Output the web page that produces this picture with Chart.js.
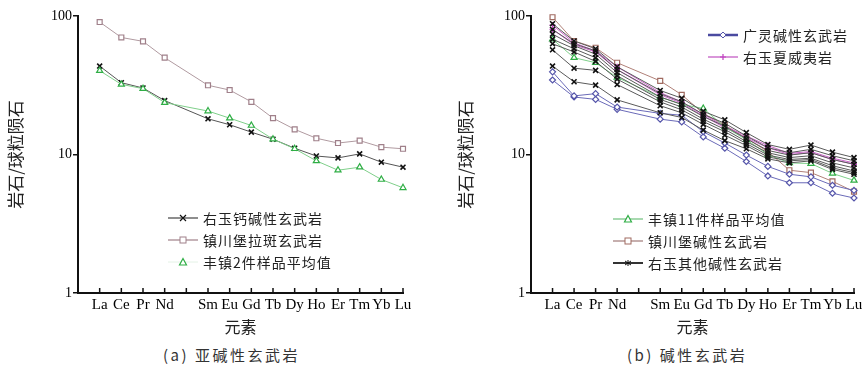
<!DOCTYPE html>
<html>
<head>
<meta charset="utf-8">
<script src="https://cdn.jsdelivr.net/npm/chart.js@4.4.1/dist/chart.umd.min.js"></script>
<style>
  body { margin: 0; background: #fff; width: 867px; height: 371px; position: relative; overflow: hidden; font-family: 'Noto Sans CJK SC', sans-serif; }
  .panel { position: absolute; top: 0; height: 340px; }
  .legend { position: absolute; font-size: 14px; letter-spacing: 1px; color: #222; }
  .legend div { height: 22px; display: flex; align-items: center; white-space: nowrap; }
  .legend svg { margin-right: 5px; flex: none; }
  .caption { position: absolute; top: 344px; font-size: 15px; letter-spacing: 2.5px; color: #333; white-space: nowrap; }
</style>
</head>
<body>
<div class="panel" style="left:0;width:430px"><canvas id="chartA" width="430" height="340"></canvas></div>
<div class="panel" style="left:430px;width:437px"><canvas id="chartB" width="437" height="340"></canvas></div>

<div class="legend" id="legA" style="left:168px;top:207px"></div>
<div class="legend" id="legB1" style="left:708px;top:24px"></div>
<div class="legend" id="legB2" style="left:613px;top:208px"></div>

<div class="caption" style="left:163px">(a) 亚碱性玄武岩</div>
<div class="caption" style="left:627px">(b) 碱性玄武岩</div>

<script>
// x positions: blank origin, La..Lu with an empty slot for Pm
const xLabels = ['', 'La', 'Ce', 'Pr', 'Nd', '', 'Sm', 'Eu', 'Gd', 'Tb', 'Dy', 'Ho', 'Er', 'Tm', 'Yb', 'Lu'];
const yTicks = [1, 10, 100];

// (a) 亚碱性玄武岩 — values for La Ce Pr Nd Sm Eu Gd Tb Dy Ho Er Tm Yb Lu
const youyuCalc = [43.5, 33, 30.2, 24.5, 18.1, 16.4, 14.5, 12.9, 11.1, 9.75, 9.45, 10.1, 8.8, 8.1];
const zcbTholeiite = [90.5, 70, 65.6, 50, 31.6, 29.2, 24, 18.3, 15.2, 13.1, 12.1, 12.6, 11.3, 11.0];
const fengzhen2 = [40.3, 32.1, 29.9, 23.7, 20.6, 18.3, 16.2, 12.9, 11.0, 9.0, 7.7, 8.1, 6.6, 5.75];

// (b) 碱性玄武岩
const guangling1 = [39.5, 26.5, 27.5, 22, 19.8, 19.2, 14.6, 12.1, 9.9, 8.2, 7.2, 6.9, 6.0, 5.5];
const guangling2 = [34.5, 26, 25, 21.2, 18, 17.2, 13.4, 11.1, 8.9, 7.0, 6.25, 6.25, 5.25, 4.85];
const youyuHawaiite1 = [86, 64, 56, 43, 28, 24, 19.5, 16, 13.6, 11.6, 10.2, 10.5, 9.4, 8.7];
const youyuHawaiite2 = [80, 62, 55, 41, 27, 23.5, 19, 15.6, 13.2, 11.2, 10.0, 10.3, 9.2, 8.5];
const fengzhen11 = [68, 50, 46, 36, 26, 23, 21.5, 15.8, 12.8, 10.0, 8.7, 8.6, 7.3, 6.5];
const zcbAlkali = [98, 66, 59, 46, 34, 27, 19.8, 16.3, 13.1, 10.5, 7.7, 7.4, 6.4, 5.4];
const youyuOther1 = [88, 66, 58, 43, 29, 25.5, 20.5, 17.8, 14.4, 11.8, 10.9, 11.7, 10.4, 9.5];
const youyuOther2 = [80, 63, 56, 41, 27.5, 24, 19.5, 16.8, 13.6, 11.2, 10.3, 10.9, 9.8, 9.0];
const youyuOther3 = [74, 61, 53, 39, 26, 23, 18.8, 16.0, 13.0, 10.7, 9.9, 10.3, 9.2, 8.5];
const youyuOther4 = [68, 58, 50, 37, 25, 22, 18.0, 15.2, 12.4, 10.3, 9.5, 9.8, 8.7, 8.0];
const youyuOther5 = [63, 55, 47, 35, 24, 21, 17.3, 14.6, 12.0, 9.9, 9.2, 9.4, 8.3, 7.6];
const youyuOther6 = [57, 42, 40.5, 32, 22.5, 20, 16.5, 13.8, 11.6, 9.6, 9.0, 9.2, 8.0, 7.4];
const youyuOther7 = [43.5, 33.5, 31.7, 24.8, 20, 18.5, 15, 12.6, 11.0, 9.3, 8.7, 9.0, 7.8, 7.2];

Chart.defaults.font.family = "'Liberation Serif', 'Noto Sans CJK SC', serif";
Chart.defaults.color = '#111';

// put the 14 REE values into the 16 x slots (origin and Pm left empty)
function slot(vals) {
    return [null, ...vals.slice(0, 4), null, ...vals.slice(4)];
}

function series(vals, color, lineColor, style, radius, width, markWidth) {
    return {
        data: slot(vals),
        borderColor: lineColor,
        borderWidth: width,
        pointStyle: style,
        pointRadius: radius,
        pointBorderColor: color,
        pointBackgroundColor: '#fff',
        pointBorderWidth: markWidth || 1.2,
        spanGaps: true,
        tension: 0,
        clip: false
    };
}

const innerTicks = {
    id: 'innerTicks',
    afterDraw(chart) {
        const x = chart.scales.x;
        const ctx = chart.ctx;
        const b = chart.chartArea.bottom;
        ctx.save();
        ctx.strokeStyle = '#111';
        ctx.lineWidth = 1.5;
        for (let i = 1; i < xLabels.length; i++) {
            const px = x.getPixelForValue(i);
            ctx.beginPath();
            ctx.moveTo(px, b);
            ctx.lineTo(px, b - 5);
            ctx.stroke();
        }
        ctx.restore();
    }
};

function makeChart(id, datasets, yWidth, padRight, titlePad) {
    return new Chart(document.getElementById(id), {
        type: 'line',
        data: { labels: xLabels, datasets: datasets },
        options: {
            responsive: false,
            animation: false,
            devicePixelRatio: 1,
            layout: { padding: { left: 0, right: padRight, top: 16, bottom: 0 } },
            plugins: { legend: { display: false }, tooltip: { enabled: false } },
            scales: {
                x: {
                    type: 'category',
                    offset: false,
                    grid: { display: false },
                    border: { display: true, color: '#111', width: 2 },
                    ticks: { autoSkip: false, maxRotation: 0, padding: -5, font: { size: 15 }, color: '#000' },
                    title: { display: true, text: '元素', font: { family: "'Noto Sans CJK SC'", size: 16 }, color: '#222', padding: { top: 0, bottom: 3 } },
                    afterFit(s) { s.height = 47; }
                },
                y: {
                    type: 'logarithmic',
                    min: 1,
                    max: 100,
                    grid: { display: true, drawOnChartArea: false, drawTicks: true, tickLength: 5, color: '#111', lineWidth: 1.5 },
                    border: { display: true, color: '#111', width: 2 },
                    ticks: { padding: 1, font: { size: 14 }, color: '#000', callback: v => String(v) },
                    afterBuildTicks(s) { s.ticks = yTicks.map(v => ({ value: v })); },
                    title: { display: true, text: '岩石/球粒陨石', font: { family: "'Noto Sans CJK SC'", size: 17 }, color: '#222', padding: { top: titlePad, bottom: 0 } },
                    afterFit(s) { s.width = yWidth; }
                }
            }
        },
        plugins: [innerTicks]
    });
}

const cBlack = '#111', lBlack = '#555';
const cMauve = '#a0808a';
const cGreen = '#2fae45', lGreen = '#7fcf8a';
const cBlue = '#5555aa';
const cMagenta = '#c040c0';
const cBrown = '#a06a60';

makeChart('chartA', [
    series(zcbTholeiite, cMauve, '#b09aa0', 'rect', 3.5, 1),
    series(fengzhen2, cGreen, lGreen, 'triangle', 3.5, 1),
    series(youyuCalc, cBlack, lBlack, 'crossRot', 3.5, 1, 1.6)
], 78, 27, 5);

makeChart('chartB', [
    ...[youyuOther1, youyuOther2, youyuOther3, youyuOther4, youyuOther5, youyuOther6, youyuOther7]
        .map(v => series(v, cBlack, '#5a5a5a', 'crossRot', 3.5, 1, 1.6)),
    series(guangling1, cBlue, '#6a6ab8', 'rectRot', 3, 1),
    series(guangling2, cBlue, '#6a6ab8', 'rectRot', 3, 1),
    series(fengzhen11, cGreen, lGreen, 'triangle', 3.5, 1),
    series(youyuHawaiite1, cMagenta, '#cc66cc', 'cross', 3, 1),
    series(youyuHawaiite2, cMagenta, '#cc66cc', 'cross', 3, 1),
    series(zcbAlkali, cBrown, '#b08078', 'rect', 3.5, 1)
], 101, 13, 25);

// legend samples
function sample(shape, color, lineColor, lineWidth) {
    let m = '';
    const cx = 15, cy = 5;
    if (shape === 'x') m = `<path d="M${cx-3} ${cy-3}L${cx+3} ${cy+3}M${cx+3} ${cy-3}L${cx-3} ${cy+3}" stroke="${color}" stroke-width="1.2"/>`;
    if (shape === 'rect') m = `<rect x="${cx-3}" y="${cy-3}" width="6" height="6" fill="#fff" stroke="${color}"/>`;
    if (shape === 'tri') m = `<path d="M${cx} ${cy-3.5}L${cx+3.5} ${cy+3}L${cx-3.5} ${cy+3}Z" fill="#fff" stroke="${color}" stroke-width="1.2"/>`;
    if (shape === 'diamond') m = `<path d="M${cx} ${cy-3}L${cx+3} ${cy}L${cx} ${cy+3}L${cx-3} ${cy}Z" fill="#fff" stroke="${color}"/>`;
    if (shape === 'plus') m = `<path d="M${cx} ${cy-3}V${cy+3}M${cx-3} ${cy}H${cx+3}" stroke="${color}" stroke-width="1.2"/>`;
    if (shape === 'star') m = `<path d="M${cx} ${cy-3}V${cy+3}M${cx-3} ${cy-2}L${cx+3} ${cy+2}M${cx+3} ${cy-2}L${cx-3} ${cy+2}" stroke="${color}" stroke-width="1"/>`;
    return `<svg width="30" height="10"><line x1="0" y1="5" x2="30" y2="5" stroke="${lineColor}" stroke-width="${lineWidth}"/>${m}</svg>`;
}

function legend(id, items) {
    document.getElementById(id).innerHTML = items
        .map(it => `<div>${sample(it[1], it[2], it[3], it[4])}<span>${it[0]}</span></div>`)
        .join('');
}

legend('legA', [
    ['右玉钙碱性玄武岩', 'x', cBlack, '#444', 1.2],
    ['镇川堡拉斑玄武岩', 'rect', cMauve, '#a08088', 1.2],
    ['丰镇2件样品平均值', 'tri', cGreen, '#e4f2e6', 1]
]);
legend('legB1', [
    ['广灵碱性玄武岩', 'diamond', cBlue, '#4a4aa0', 2.5],
    ['右玉夏威夷岩', 'plus', cMagenta, '#c050c0', 1.2]
]);
legend('legB2', [
    ['丰镇11件样品平均值', 'tri', cGreen, '#6fc07c', 1.2],
    ['镇川堡碱性玄武岩', 'rect', cBrown, '#a07a78', 1.2],
    ['右玉其他碱性玄武岩', 'star', cBlack, '#333', 2]
]);
</script>
</body>
</html>
